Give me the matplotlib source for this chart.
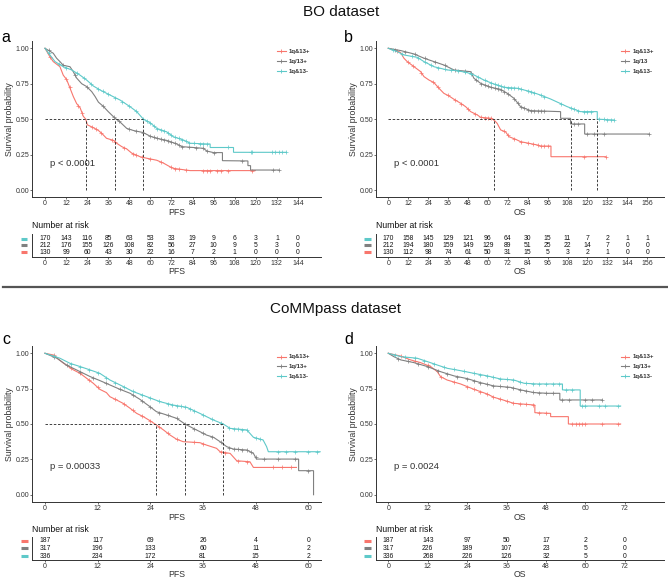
import numpy as np
import matplotlib
matplotlib.use("Agg")
import matplotlib.pyplot as plt
from matplotlib.lines import Line2D

plt.rcParams['font.family'] = ['Liberation Sans', 'DejaVu Sans']

W, H = 668, 579
RED, GRAY, CYAN = '#F8766D', '#808080', '#5EC9C9'
TXT = '#333333'

# ---------------- data ----------------
groups_a = ['1q&13+', '1q/13+', '1q&13-']
groups_b = ['1q&13+', '1q/13', '1q&13-']

# Panel a (BO, PFS)
a_red_t = [0, 2.8, 4.7, 8.5, 10.4, 12.3, 14.2, 16.1, 18, 20, 21.8, 23.2, 24.1, 27.5, 30.4, 32.3, 35, 39, 40.8, 43.7, 46.5, 49.4, 54.1, 58, 63.6, 67.4, 71, 73, 82.6, 119.7]
a_red_s = [1, 0.94, 0.906, 0.87, 0.81, 0.78, 0.72, 0.66, 0.61, 0.58, 0.52, 0.50, 0.46, 0.44, 0.42, 0.40, 0.365, 0.35, 0.33, 0.306, 0.29, 0.26, 0.235, 0.224, 0.21, 0.19, 0.165, 0.153, 0.137, 0.137]
a_gray_t = [0, 4.7, 6.6, 8.5, 10.4, 14.2, 16.1, 18, 20.9, 23.7, 26.6, 28.5, 30.4, 33.2, 36, 39.9, 42.7, 46.5, 50.3, 56, 59.8, 63.6, 69.3, 75, 77.9, 84.5, 90.2, 92.1, 95.9, 101, 101, 115.5, 115.5, 117, 117, 133]
a_gray_s = [1, 0.965, 0.93, 0.906, 0.88, 0.87, 0.835, 0.79, 0.75, 0.73, 0.694, 0.66, 0.62, 0.59, 0.553, 0.506, 0.48, 0.435, 0.42, 0.405, 0.38, 0.365, 0.35, 0.325, 0.306, 0.3, 0.294, 0.275, 0.264, 0.264, 0.207, 0.205, 0.172, 0.172, 0.141, 0.141]
a_cyan_t = [0, 2.8, 5.7, 10.4, 15.2, 20, 23.7, 27.5, 31.3, 37, 42.7, 48.4, 52.2, 56, 59.8, 63.6, 69.3, 73, 78.8, 82.6, 92.1, 94, 94, 107.3, 107.3, 137.3]
a_cyan_s = [1, 0.953, 0.906, 0.87, 0.847, 0.81, 0.776, 0.734, 0.706, 0.67, 0.635, 0.588, 0.553, 0.5, 0.475, 0.435, 0.41, 0.376, 0.353, 0.33, 0.325, 0.325, 0.3, 0.3, 0.266, 0.266]
a_red_cens = [3, 12, 14, 19, 21, 27, 29, 32, 38, 40, 45, 50, 52, 55, 60, 66, 72, 74, 76, 80, 90, 92, 94, 98, 100, 104, 118]
a_gray_cens = [2, 10, 17, 24, 33, 39, 42, 48, 52, 56, 60, 62, 64, 66, 68, 70, 72, 74, 76, 78, 82, 86, 90, 92, 96, 112, 130, 133]
a_cyan_cens = [2, 8, 12, 18, 22, 26, 30, 33, 36, 40, 44, 48, 52, 56, 58, 60, 62, 64, 66, 68, 70, 72, 74, 76, 78, 80, 82, 85, 88, 90, 92, 104, 117, 118, 129, 131, 133, 135, 137]
a_medians = [23.2, 39.9, 56.0]
a_ticks = list(range(0, 145, 12))
a_risk_cyan = [170, 143, 116, 85, 63, 53, 33, 19, 9, 6, 3, 1, 0]
a_risk_gray = [212, 176, 155, 126, 108, 82, 56, 27, 10, 9, 5, 3, 0]
a_risk_red = [130, 99, 60, 43, 30, 22, 16, 7, 2, 1, 0, 0, 0]

# Panel b (BO, OS)
b_red_t = [0, 3.4, 7.4, 9.4, 11.4, 15.5, 19.5, 21.5, 24.5, 27.5, 30.5, 33.5, 36.5, 39.6, 43.6, 46.6, 49.6, 53.6, 55.6, 62, 64, 65.6, 67.7, 70.7, 72.7, 76.7, 79.7, 89.7, 91.7, 98, 98, 130.9]
b_red_s = [1, 0.988, 0.97, 0.93, 0.906, 0.87, 0.835, 0.8, 0.776, 0.758, 0.718, 0.682, 0.664, 0.64, 0.612, 0.588, 0.553, 0.53, 0.513, 0.506, 0.49, 0.47, 0.424, 0.41, 0.376, 0.358, 0.341, 0.318, 0.31, 0.31, 0.235, 0.235]
b_gray_t = [0, 7.4, 15.5, 21.5, 27.5, 33.5, 39.6, 49.6, 51.6, 55.6, 61.6, 67.7, 71.7, 75.7, 79.7, 85.7, 103.8, 103.8, 109.8, 109.8, 118.3, 118.3, 157]
b_gray_s = [1, 0.984, 0.96, 0.93, 0.906, 0.882, 0.847, 0.835, 0.788, 0.753, 0.725, 0.71, 0.682, 0.647, 0.588, 0.56, 0.553, 0.506, 0.506, 0.466, 0.466, 0.395, 0.395]
b_cyan_t = [0, 5.4, 9.4, 17.5, 21.5, 27.5, 35.5, 41.6, 47.6, 51.6, 57.6, 63.6, 69.7, 77.7, 85.7, 91.7, 97.8, 107.8, 115.8, 125.9, 125.9, 135.9]
b_cyan_s = [1, 0.976, 0.953, 0.936, 0.906, 0.87, 0.847, 0.842, 0.828, 0.812, 0.776, 0.748, 0.725, 0.718, 0.694, 0.67, 0.642, 0.588, 0.553, 0.553, 0.5, 0.494]
b_red_cens = [5, 12, 15, 20, 27, 30, 36, 40, 44, 48, 52, 56, 58, 60, 62, 70, 72, 76, 80, 84, 87, 90, 92, 94, 96, 118, 131]
b_gray_cens = [4, 10, 16, 22, 28, 34, 40, 46, 50, 53, 56, 58, 60, 62, 64, 66, 68, 70, 72, 76, 78, 80, 82, 84, 86, 88, 90, 92, 94, 112, 114, 120, 124, 130, 157]
b_cyan_cens = [3, 8, 14, 18, 22, 26, 30, 34, 38, 42, 46, 50, 54, 58, 62, 64, 66, 68, 70, 72, 74, 76, 78, 80, 84, 86, 88, 92, 94, 104, 110, 112, 114, 118, 120, 122, 127, 130, 132, 134, 136]
b_medians = [63.6, 109.8, 125.9]
b_ticks = list(range(0, 157, 12))
b_risk_cyan = [170, 158, 145, 129, 121, 96, 64, 30, 15, 11, 7, 2, 1, 1]
b_risk_gray = [212, 194, 180, 159, 149, 129, 89, 51, 25, 22, 14, 7, 0, 0]
b_risk_red = [130, 112, 98, 74, 61, 50, 31, 15, 5, 3, 2, 1, 0, 0]

# Panel c (CoMMpass, PFS)
c_red_t = [0, 1.9, 4.2, 6.5, 8, 9.5, 11, 12.5, 14, 14.8, 16.3, 17.8, 19.4, 20.9, 22.4, 23.9, 25.4, 27, 28.5, 30, 31.5, 35.3, 36.8, 39.1, 39.9, 42.2, 43.7, 46.7, 47.5, 57.3]
c_red_s = [1, 0.988, 0.93, 0.882, 0.858, 0.823, 0.788, 0.745, 0.722, 0.693, 0.67, 0.646, 0.611, 0.575, 0.552, 0.524, 0.493, 0.458, 0.422, 0.392, 0.375, 0.368, 0.351, 0.328, 0.304, 0.292, 0.24, 0.233, 0.193, 0.193]
c_gray_t = [0, 2.7, 4.9, 8, 10.3, 12.5, 14.8, 17.1, 19.4, 21.6, 23.9, 25.4, 27.7, 30, 31.9, 33.8, 35.3, 36.8, 38.4, 39.9, 41.4, 42.9, 46, 47.5, 48.2, 57.8, 57.8, 61.2, 61.2]
c_gray_s = [1, 0.965, 0.917, 0.87, 0.835, 0.807, 0.776, 0.745, 0.717, 0.675, 0.623, 0.587, 0.564, 0.54, 0.5, 0.469, 0.446, 0.422, 0.406, 0.375, 0.34, 0.323, 0.316, 0.292, 0.252, 0.252, 0.17, 0.17, 0.0]
c_cyan_t = [0, 3.4, 5.7, 8, 10.3, 12.5, 14.8, 17.1, 20.1, 23.2, 26.2, 29.2, 32.3, 35.3, 38.4, 40.6, 42.2, 46, 47.5, 49.7, 50.5, 50.9, 62.7]
c_cyan_s = [1, 0.965, 0.929, 0.906, 0.882, 0.858, 0.811, 0.776, 0.729, 0.693, 0.658, 0.634, 0.618, 0.575, 0.528, 0.5, 0.469, 0.458, 0.406, 0.387, 0.34, 0.304, 0.304]
c_red_cens = [2, 6, 8, 10, 12, 16, 18, 20, 22, 24, 26, 28, 30, 34, 36, 40, 41, 44, 46, 52, 54, 56]
c_gray_cens = [2, 5, 8, 11, 14, 17, 20, 22, 24, 26, 28, 30, 32, 34, 36, 38, 40, 42, 43, 44, 45, 46, 47, 48, 50, 53, 57, 60]
c_cyan_cens = [2, 6, 8, 10, 12, 14, 16, 18, 20, 22, 24, 26, 28, 29, 30, 31, 32, 33, 34, 36, 38, 40, 42, 43, 44, 45, 46, 48, 49, 53, 55, 57, 60, 62]
c_medians = [25.4, 31.9, 40.6]
c_ticks = list(range(0, 61, 12))
c_risk_red = [187, 117, 69, 26, 4, 0]
c_risk_gray = [317, 196, 133, 60, 11, 2]
c_risk_cyan = [336, 234, 172, 81, 15, 2]

# Panel d (CoMMpass, OS)
d_red_t = [0, 3.8, 6.8, 9.8, 12.9, 14.9, 15.9, 17.9, 22, 26.1, 30.1, 32.1, 34.2, 38.2, 44.6, 44.6, 49.4, 49.4, 54.8, 54.8, 70.7]
d_red_s = [1, 0.98, 0.953, 0.934, 0.906, 0.87, 0.835, 0.811, 0.783, 0.745, 0.712, 0.689, 0.675, 0.646, 0.634, 0.58, 0.575, 0.552, 0.552, 0.5, 0.5]
d_gray_t = [0, 1.7, 3.8, 7.8, 11.9, 15.9, 20, 24, 28.1, 32.1, 37.2, 40.3, 44.3, 48.4, 52.2, 52.2, 65.1]
d_gray_s = [1, 0.976, 0.953, 0.934, 0.906, 0.87, 0.84, 0.821, 0.792, 0.769, 0.759, 0.741, 0.722, 0.717, 0.717, 0.67, 0.67]
d_cyan_t = [0, 3.8, 8.8, 11.9, 14.9, 17.9, 22, 26.1, 30.1, 34.2, 38.2, 41.3, 45.3, 53, 53, 58.4, 58.4, 70.7]
d_cyan_s = [1, 0.976, 0.965, 0.941, 0.917, 0.894, 0.877, 0.858, 0.84, 0.818, 0.811, 0.788, 0.783, 0.783, 0.741, 0.741, 0.627, 0.627]
d_red_cens = [4, 8, 12, 16, 20, 24, 26, 28, 30, 32, 34, 36, 38, 40, 42, 44, 46, 48, 56, 57, 58, 59, 60, 65, 70]
d_gray_cens = [3, 6, 9, 12, 15, 18, 21, 24, 26, 28, 30, 32, 34, 36, 38, 40, 42, 44, 46, 48, 50, 53, 55, 60, 62, 65]
d_cyan_cens = [2, 5, 8, 11, 14, 17, 20, 23, 26, 28, 30, 32, 34, 36, 38, 40, 42, 44, 46, 48, 50, 52, 54, 56, 59, 60, 64, 66, 70]
d_ticks = list(range(0, 73, 12))
d_risk_red = [187, 143, 97, 50, 17, 2, 0]
d_risk_gray = [317, 226, 189, 107, 23, 5, 0]
d_risk_cyan = [336, 268, 226, 126, 32, 5, 0]

# ---------------- figure ----------------
fig = plt.figure(figsize=(W / 100, H / 100), dpi=100)


def add_ax(l, t, r, b):
    return fig.add_axes([l / W, 1 - b / H, (r - l) / W, (b - t) / H])


def ftext(x, y, s, **kw):
    fig.text(x / W, 1 - y / H, s, **kw)


def fline(xs, ys, **kw):
    fig.add_artist(Line2D([x / W for x in xs], [1 - y / H for y in ys],
                          transform=fig.transFigure, **kw))


def style(ax, xlim, ticks, xlabel, labelpad=0.6):
    ax.set_xlim(xlim)
    for s in ['top', 'right']:
        ax.spines[s].set_visible(False)
    for s in ['left', 'bottom']:
        ax.spines[s].set_linewidth(0.7)
        ax.spines[s].set_color(TXT)
    ax.set_xticks(ticks)
    ax.tick_params(labelsize=5, length=1.5, width=0.5, pad=0.8, colors=TXT)
    ax.set_xlabel(xlabel, fontsize=6.3, labelpad=labelpad, color=TXT)


def main_panel(box, xlim, ticks, xlabel, curves, medians, pval, pxy):
    ax = add_ax(*box)
    style(ax, xlim, ticks, xlabel)
    ax.set_ylim(-0.05, 1.05)
    ax.set_yticks([0, 0.25, 0.5, 0.75, 1.0])
    ax.set_yticklabels(['0.00', '0.25', '0.50', '0.75', '1.00'])
    ax.tick_params(axis='y', pad=0.4)
    ax.set_ylabel('Survival probability', fontsize=6.3, labelpad=0.8, color=TXT)
    for t, s, cens, col in curves:
        ax.plot(t, s, color=col, lw=0.8, solid_joinstyle='miter')
        ct = np.array(cens, dtype=float)
        ax.plot(ct, np.interp(ct, t, s), ls='none', marker='+', ms=3, mew=0.5, color=col)
    if medians:
        ax.plot([0, max(medians)], [0.5, 0.5], ls=(0, (3, 2)), color='#222222', lw=0.6)
        for m in medians:
            ax.plot([m, m], [0, 0.5], ls=(0, (3, 2)), color='#222222', lw=0.6)
    ax.text(pxy[0], pxy[1], pval, fontsize=6.8, color=TXT, ha='left', va='center')
    return ax


def legend(x0, ys, labels):
    for y, lab, col in zip(ys, labels, [RED, GRAY, CYAN]):
        fline([x0, x0 + 8.5], [y, y], color=col, lw=0.8)
        fline([x0 + 4.25], [y], color=col, marker='+', ms=3, mew=0.6, ls='none')
        ftext(x0 + 12, y, lab, fontsize=4.3, fontweight='bold', color=TXT, va='center', ha='left')


def risk_table(box, xlim, ticks, xlabel, rows, rows_y, bar_x, title_y):
    ax = add_ax(*box)
    style(ax, xlim, ticks, xlabel, labelpad=0.0)
    ax.set_ylim(box[3], box[1])
    ax.set_yticks([])
    for (vals, col), y in zip(rows, rows_y):
        for tk, v in zip(ticks, vals):
            ax.text(tk, y, str(v), ha='center', va='center', fontsize=4.9, color='#111111')
        fline(bar_x, [y, y], color=col, lw=2.2, solid_capstyle='butt')
    ftext(box[0], title_y, 'Number at risk', fontsize=6.2, color='#111111', ha='left', va='center')
    return ax


# Titles and letters
ftext(341, 16.5, 'BO dataset', fontsize=11, ha='center', va='baseline', color='#111111')
ftext(336, 313, 'CoMMpass dataset', fontsize=11, ha='center', va='baseline', color='#111111')
ftext(1, 38, 'a', fontsize=11.5, ha='left', va='center')
ftext(344, 38, 'b', fontsize=11.5, ha='left', va='center')
ftext(2, 339, 'c', fontsize=11.5, ha='left', va='center')
ftext(344, 339, 'd', fontsize=11.5, ha='left', va='center')

# separator
fline([3, 668], [287, 287], color='#555555', lw=1.6)

# Panel a
main_panel((32, 41.2, 321, 197.1), (-7.4, 157.1), a_ticks, 'PFS',
           [(a_red_t, a_red_s, a_red_cens, RED), (a_gray_t, a_gray_s, a_gray_cens, GRAY),
            (a_cyan_t, a_cyan_s, a_cyan_cens, CYAN)], a_medians, 'p < 0.0001', (2.8, 0.19))
legend(277, [51, 61, 71], groups_a)
risk_table((32, 234, 321, 257.3), (-7.4, 157.1), a_ticks, 'PFS',
           [(a_risk_cyan, CYAN), (a_risk_gray, GRAY), (a_risk_red, RED)],
           [238.7, 245.3, 252.3], [20.7, 26.5], 226)

# Panel b
main_panel((375.7, 41.2, 664, 197.1), (-7.59, 166.1), b_ticks, 'OS',
           [(b_red_t, b_red_s, b_red_cens, RED), (b_gray_t, b_gray_s, b_gray_cens, GRAY),
            (b_cyan_t, b_cyan_s, b_cyan_cens, CYAN)], b_medians, 'p < 0.0001', (3.4, 0.19))
legend(620.7, [51, 61, 71], groups_b)
risk_table((375.7, 234, 664, 257.3), (-7.59, 166.1), b_ticks, 'OS',
           [(b_risk_cyan, CYAN), (b_risk_gray, GRAY), (b_risk_red, RED)],
           [238.7, 245.3, 252.3], [364, 370.5], 226)

# Panel c
main_panel((32, 346.2, 321, 501.8), (-2.96, 62.9), c_ticks, 'PFS',
           [(c_red_t, c_red_s, c_red_cens, RED), (c_gray_t, c_gray_s, c_gray_cens, GRAY),
            (c_cyan_t, c_cyan_s, c_cyan_cens, CYAN)], c_medians, 'p = 0.00033', (1.1, 0.2))
legend(277, [356.7, 366.3, 376.3], groups_a)
risk_table((32, 537, 321, 560), (-2.96, 62.9), c_ticks, 'PFS',
           [(c_risk_red, RED), (c_risk_gray, GRAY), (c_risk_cyan, CYAN)],
           [540.7, 548.3, 556], [20.7, 28], 529.5)

# Panel d
main_panel((375.7, 346.2, 664, 501.8), (-3.83, 83.9), d_ticks, 'OS',
           [(d_red_t, d_red_s, d_red_cens, RED), (d_gray_t, d_gray_s, d_gray_cens, GRAY),
            (d_cyan_t, d_cyan_s, d_cyan_cens, CYAN)], None, 'p = 0.0024', (1.7, 0.2))
legend(620.7, [356.7, 366.3, 376.3], groups_a)
risk_table((375.7, 537, 664, 560), (-3.83, 83.9), d_ticks, 'OS',
           [(d_risk_red, RED), (d_risk_gray, GRAY), (d_risk_cyan, CYAN)],
           [540.7, 548.3, 556], [363.5, 371], 529.5)

fig.savefig('out.png', dpi=100)
